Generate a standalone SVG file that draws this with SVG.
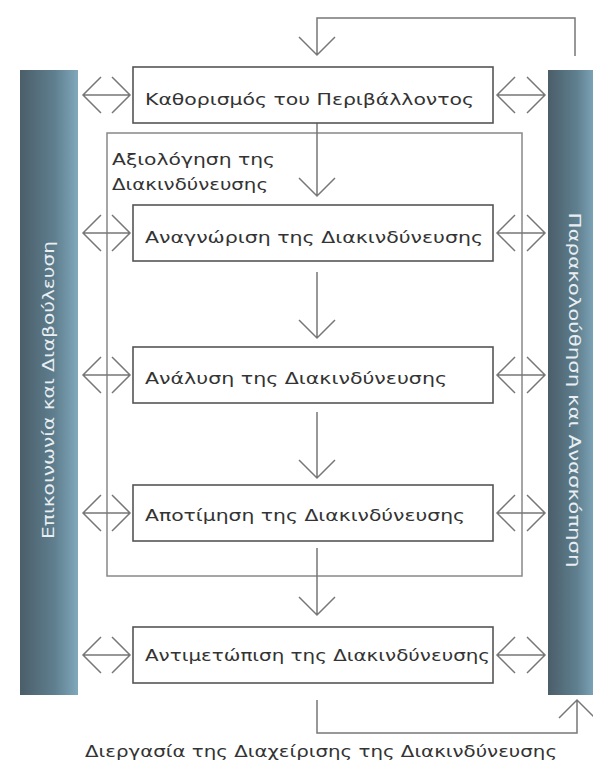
<svg xmlns="http://www.w3.org/2000/svg" width="593" height="762" viewBox="0 0 593 762">
<defs>
<linearGradient id="bar" x1="0" y1="0" x2="1" y2="0">
<stop offset="0" stop-color="#4b5e69"/>
<stop offset="0.6" stop-color="#5f7f8f"/>
<stop offset="1" stop-color="#80a8bb"/>
</linearGradient>
<style>
.box{fill:#fff;stroke:#555;stroke-width:1.6}
.frame{fill:none;stroke:#888;stroke-width:1.5}
.ln{fill:none;stroke:#777;stroke-width:1.5}
.t{font-family:"DejaVu Sans","Open Sans",sans-serif;font-size:16px;fill:#333}
.v{font-family:"DejaVu Sans","Open Sans",sans-serif;font-size:15px;fill:#e8eef1}
</style>
</defs>
<rect width="593" height="762" fill="#fff"/>

<g id="bar-left">
<rect x="20" y="70" width="58" height="625" fill="url(#bar)"/>
<text class="v" transform="translate(54,390) rotate(-90)" text-anchor="middle" textLength="298" lengthAdjust="spacingAndGlyphs">Επικοινωνία και Διαβούλευση</text>
</g>
<g id="bar-right">
<rect x="548" y="70" width="48" height="625" fill="url(#bar)"/>
<text class="v" transform="translate(569,390) rotate(90)" text-anchor="middle" textLength="355" lengthAdjust="spacingAndGlyphs">Παρακολούθηση και Ανασκόπηση</text>
</g>

<g id="assessment">
<rect class="frame" x="107" y="133" width="415" height="443"/>
<text class="t" x="112" y="165" textLength="163" lengthAdjust="spacingAndGlyphs">Αξιολόγηση της</text>
<text class="t" x="112" y="190" textLength="156" lengthAdjust="spacingAndGlyphs">Διακινδύνευσης</text>
</g>

<g id="connectors">
<path class="ln" d="M575,56 V18 H317 V55 M299,37 L317,55 L335,37"/>
<path class="ln" d="M317,123 V196 M299,178 L317,196 L335,178"/>
<path class="ln" d="M317,272 V338 M299,320 L317,338 L335,320"/>
<path class="ln" d="M317,412 V478 M299,460 L317,478 L335,460"/>
<path class="ln" d="M317,548 V615 M299,597 L317,615 L335,597"/>
<path class="ln" d="M317,700 V733 H577 V700 M559,718 L577,700 L595,718"/>
<path class="ln" d="M83,95 H130 M101,77 L83,95 L101,113 M112,77 L130,95 L112,113"/>
<path class="ln" d="M83,233 H130 M101,215 L83,233 L101,251 M112,215 L130,233 L112,251"/>
<path class="ln" d="M83,375 H130 M101,357 L83,375 L101,393 M112,357 L130,375 L112,393"/>
<path class="ln" d="M83,513 H130 M101,495 L83,513 L101,531 M112,495 L130,513 L112,531"/>
<path class="ln" d="M83,655 H130 M101,637 L83,655 L101,673 M112,637 L130,655 L112,673"/>
<path class="ln" d="M497,95 H545 M515,77 L497,95 L515,113 M527,77 L545,95 L527,113"/>
<path class="ln" d="M497,233 H545 M515,215 L497,233 L515,251 M527,215 L545,233 L527,251"/>
<path class="ln" d="M497,375 H545 M515,357 L497,375 L515,393 M527,357 L545,375 L527,393"/>
<path class="ln" d="M497,513 H545 M515,495 L497,513 L515,531 M527,495 L545,513 L527,531"/>
<path class="ln" d="M497,655 H545 M515,637 L497,655 L515,673 M527,637 L545,655 L527,673"/>
</g>

<g id="context">
<rect class="box" x="133" y="67" width="360" height="56"/>
<text class="t" x="145" y="105" textLength="329" lengthAdjust="spacingAndGlyphs">Καθορισμός του Περιβάλλοντος</text>
</g>
<g id="identification">
<rect class="box" x="133" y="205" width="360" height="56"/>
<text class="t" x="145" y="243" textLength="338" lengthAdjust="spacingAndGlyphs">Αναγνώριση της Διακινδύνευσης</text>
</g>
<g id="analysis">
<rect class="box" x="133" y="347" width="360" height="56"/>
<text class="t" x="145" y="384" textLength="302" lengthAdjust="spacingAndGlyphs">Ανάλυση της Διακινδύνευσης</text>
</g>
<g id="evaluation">
<rect class="box" x="133" y="485" width="360" height="56"/>
<text class="t" x="145" y="521" textLength="320" lengthAdjust="spacingAndGlyphs">Αποτίμηση της Διακινδύνευσης</text>
</g>
<g id="treatment">
<rect class="box" x="133" y="627" width="360" height="56"/>
<text class="t" x="145" y="661" textLength="345" lengthAdjust="spacingAndGlyphs">Αντιμετώπιση της Διακινδύνευσης</text>
</g>

<g id="caption">
<text class="t" x="85" y="757" textLength="472" lengthAdjust="spacingAndGlyphs">Διεργασία της Διαχείρισης της Διακινδύνευσης</text>
</g>
</svg>
